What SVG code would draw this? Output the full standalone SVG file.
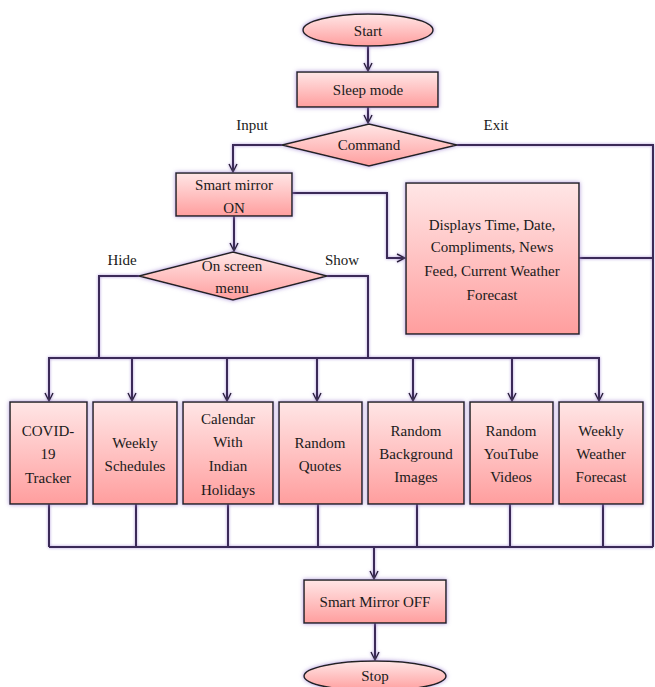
<svg xmlns="http://www.w3.org/2000/svg" width="655" height="687" viewBox="0 0 655 687">
<defs>
<linearGradient id="pk" x1="0" y1="0" x2="0" y2="1">
<stop offset="0" stop-color="#FFE6E6"/>
<stop offset="1" stop-color="#FF9E9E"/>
</linearGradient>
<filter id="glow" x="-20%" y="-20%" width="140%" height="140%">
<feDropShadow dx="0" dy="0" stdDeviation="2" flood-color="#9b7fd0" flood-opacity="0.8"/>
</filter>
<filter id="lglow" filterUnits="userSpaceOnUse" x="0" y="0" width="655" height="687">
<feDropShadow dx="0" dy="0" stdDeviation="1.5" flood-color="#9b7fd0" flood-opacity="0.8"/>
</filter>
<marker id="arr" viewBox="0 0 10 10" refX="9" refY="5" markerWidth="10" markerHeight="10" markerUnits="userSpaceOnUse" orient="auto">
<path d="M1,1 L9,5 L1,9" fill="none" stroke="#2a2238" stroke-width="1.5"/>
</marker>
</defs>
<style>
.n{fill:url(#pk);stroke:#222;stroke-width:1.5;filter:url(#glow)}
.c{fill:none;stroke:#3a2c58;stroke-width:2}
.a{marker-end:url(#arr)}
text{font-family:"Liberation Serif","Times New Roman",serif;font-size:15px;fill:#1a1a1a;text-anchor:middle}
</style>
<rect width="655" height="687" fill="#fff"/>
<g id="connectors" filter="url(#lglow)">
<path class="c a" d="M368,46 V71"/>
<path class="c a" d="M368,107 V123"/>
<path class="c a" d="M282,145 H233 V172"/>
<path class="c" d="M457,145 H653 V547"/>
<path class="c a" d="M292,193 H387 V258 H405"/>
<path class="c" d="M579,258 H653"/>
<path class="c a" d="M234,216 V251"/>
<path class="c" d="M139,276 H99 V358"/>
<path class="c" d="M327,276 H368 V358"/>
<path class="c" d="M48,358 H600"/>
<path class="c a" d="M49,358 V401"/>
<path class="c a" d="M132,358 V401"/>
<path class="c a" d="M227,358 V401"/>
<path class="c a" d="M317,358 V401"/>
<path class="c a" d="M413,358 V401"/>
<path class="c a" d="M512,358 V401"/>
<path class="c a" d="M599,358 V401"/>
<path class="c" d="M49,504 V547"/>
<path class="c" d="M136,504 V547"/>
<path class="c" d="M228,504 V547"/>
<path class="c" d="M318,504 V547"/>
<path class="c" d="M417,504 V547"/>
<path class="c" d="M510,504 V547"/>
<path class="c" d="M603,504 V547"/>
<path class="c" d="M49,547 H653"/>
<path class="c a" d="M374,547 V579"/>
<path class="c a" d="M375,623 V660"/>
</g>
<g id="start"><ellipse class="n" cx="368" cy="30" rx="65" ry="16"/><text x="368" y="36">Start</text></g>
<g id="sleep"><rect class="n" x="297" y="72" width="141" height="35"/><text x="368" y="95">Sleep mode</text></g>
<g id="command"><polygon class="n" points="369,124 457,145 369,166 282,145"/><text x="369" y="150">Command</text></g>
<g id="lbl-input"><text x="252" y="130">Input</text></g>
<g id="lbl-exit"><text x="496" y="130">Exit</text></g>
<g id="smart-on"><rect class="n" x="176" y="173" width="116" height="43"/><text x="234" y="190">Smart mirror</text><text x="234" y="213">ON</text></g>
<g id="displays"><rect class="n" x="406" y="183" width="173" height="151"/>
<text x="492" y="230">Displays Time, Date,</text><text x="492" y="252">Compliments, News</text><text x="492" y="276">Feed, Current  Weather</text><text x="492" y="300">Forecast</text></g>
<g id="menu"><polygon class="n" points="233,252 327,276 233,300 139,276"/><text x="232" y="271">On screen</text><text x="232" y="293">menu</text></g>
<g id="lbl-hide"><text x="122" y="265">Hide</text></g>
<g id="lbl-show"><text x="342" y="265">Show</text></g>
<g id="covid"><rect class="n" x="10" y="402" width="77" height="102"/><text x="48" y="436">COVID-</text><text x="48" y="459">19</text><text x="48" y="483">Tracker</text></g>
<g id="weekly"><rect class="n" x="93" y="402" width="84" height="102"/><text x="135" y="448">Weekly</text><text x="135" y="471">Schedules</text></g>
<g id="calendar"><rect class="n" x="183" y="402" width="90" height="102"/><text x="228" y="424">Calendar</text><text x="228" y="447">With</text><text x="228" y="471">Indian</text><text x="228" y="495">Holidays</text></g>
<g id="quotes"><rect class="n" x="279" y="402" width="83" height="102"/><text x="320" y="448">Random</text><text x="320" y="471">Quotes</text></g>
<g id="background"><rect class="n" x="368" y="402" width="96" height="102"/><text x="416" y="436">Random</text><text x="416" y="459">Background</text><text x="416" y="482">Images</text></g>
<g id="youtube"><rect class="n" x="470" y="402" width="83" height="102"/><text x="511" y="436">Random</text><text x="511" y="459">YouTube</text><text x="511" y="482">Videos</text></g>
<g id="weather"><rect class="n" x="559" y="402" width="84" height="102"/><text x="601" y="436">Weekly</text><text x="601" y="459">Weather</text><text x="601" y="482">Forecast</text></g>
<g id="smart-off"><rect class="n" x="304" y="580" width="142" height="43"/><text x="375" y="607">Smart Mirror OFF</text></g>
<g id="stop"><ellipse class="n" cx="375" cy="676" rx="71" ry="15"/><text x="375" y="681">Stop</text></g>
</svg>
